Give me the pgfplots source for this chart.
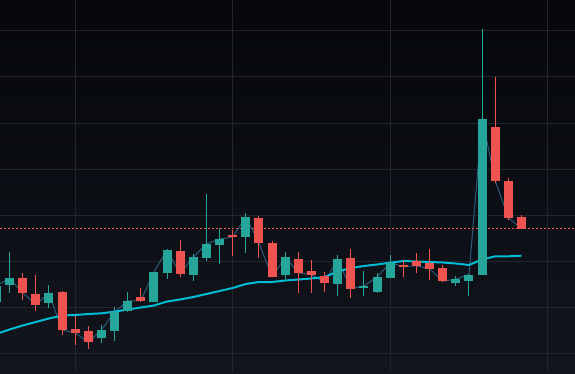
\documentclass[border=0pt]{standalone}
\usepackage{pgfplots}
\usepackage{pgfplotstable}
\pgfplotsset{compat=1.18}
\definecolor{upc}{RGB}{38,166,154}
\definecolor{downc}{RGB}{239,83,80}
\definecolor{mac}{RGB}{0,188,212}
\definecolor{closec}{RGB}{42,92,122}
\definecolor{gridc}{RGB}{34,37,45}
\definecolor{bgtop}{RGB}{5,7,11}
\definecolor{bgbot}{RGB}{18,21,29}
\pgfplotstableread{
x  o     h     l     c
0  71.3  90    70    87.3
1  88.3  121   80    94.7
2  95    100   73    80.3
3  79.3  98.3  62.3  68.3
4  70.3  88    65.3  80
5  81    82    38.3  43
6  44    57    27.7  40.3
7  42    47    24.3  30.7
8  34.7  48    30.3  43
9  42.3  65.7  32.3  61
10 62.3  81    61    72
11 76    85    71.3  72.3
12 71.3  101   71.3  101
13 100.3 124   94    123
14 122   133   96.3  99.3
15 98.3  119   92.3  116
16 115.3 179   112   129
17 128   144.7 109   134
18 138   143   117.3 136
19 136   160   120   156
20 155   157   115   130.3
21 130   132   96    96
22 98    121   94    116
23 114   121   80.3  100.3
24 102.3 113   80.3  98.3
25 97    101   81.3  90.3
26 89.3  118   77.3  114
27 115   124   75.3  84.3
28 85.3  102   77.3  87
29 81.3  100.3 80.3  96
30 95.3  118   94.7  110.3
31 108   113   96.3  106.3
32 112   120   100.3 107.3
33 110.3 124   93.3  104.3
34 105   108   91    91.7
35 90.3  97    87.3  94
36 92.3  99    77.3  98.3
37 98.3  343.7 98.3  254
38 246   295.7 189.7 192.3
39 192   195   153   155.3
40 156   158   144.3 144.3
}\candles
\pgfplotstableread{
x  ma
0  39
1  43.5
2  47.5
3  51
4  54.5
5  57.5
6  58
7  59
8  59.7
9  61.3
10 63.5
11 65.5
12 67.5
13 71.5
14 73.5
15 76
16 79
17 82
18 85
19 89
20 91
21 91
22 92.5
23 93.5
24 94.5
25 96
26 101.5
27 105
28 107
29 108.5
30 110.3
31 112
32 111.5
33 111
34 110.5
35 109.5
36 108
37 113.5
38 116.7
39 116.7
40 117.3
}\mavg
\pgfplotsset{
  candle/.style n args={2}{draw=none, mark=none, forget plot,
    error bars/.cd, y dir=plus, y explicit, error mark=none,
    error bar style={solid, line width=#1, draw=#2}},
}
\begin{document}
\begin{tikzpicture}
\useasboundingbox (0,0) rectangle (575pt,373pt);
\begin{axis}[
  at={(0,0)}, anchor=south west,
  width=575pt, height=373pt, scale only axis,
  xmin=0.2763, xmax=44.076, ymin=0, ymax=373,
  axis background/.style={shade, top color=bgtop, bottom color=bgbot},
  axis line style={draw=none},
  tick style={draw=none},
  xtick={6,18,30,42},
  ytick={20,66,112,158,204,250,296,342},
  xticklabels={}, yticklabels={},
  grid=major,
  major grid style={draw=gridc, line width=1pt},
]
% close line
\addplot[closec, line width=1pt, mark=none] table[x=x, y=c] {\candles};
% moving average
\addplot[mac, line width=2pt, mark=none] table[x=x, y=ma] {\mavg};
% last price line
\addplot[downc, line width=1pt, dash pattern=on 1.5pt off 2.5pt, mark=none] coordinates {(0,145) (45,145)};
% up wicks
\addplot[restrict expr to domain={\thisrow{c}-\thisrow{o}}{0:1000}, candle={1pt}{upc}]
  table[x=x, y=l, y error plus expr=\thisrow{h}-\thisrow{l}] {\candles};
% up bodies
\addplot[restrict expr to domain={\thisrow{c}-\thisrow{o}}{0:1000}, candle={9pt}{upc}]
  table[x=x, y=o, y error plus expr=\thisrow{c}-\thisrow{o}] {\candles};
% down wicks
\addplot[restrict expr to domain={\thisrow{c}-\thisrow{o}}{-1000:-0.001}, candle={1pt}{downc}]
  table[x=x, y=l, y error plus expr=\thisrow{h}-\thisrow{l}] {\candles};
% down bodies
\addplot[restrict expr to domain={\thisrow{c}-\thisrow{o}}{-1000:-0.001}, candle={9pt}{downc}]
  table[x=x, y=c, y error plus expr=\thisrow{o}-\thisrow{c}] {\candles};
\end{axis}
\end{tikzpicture}
\end{document}
